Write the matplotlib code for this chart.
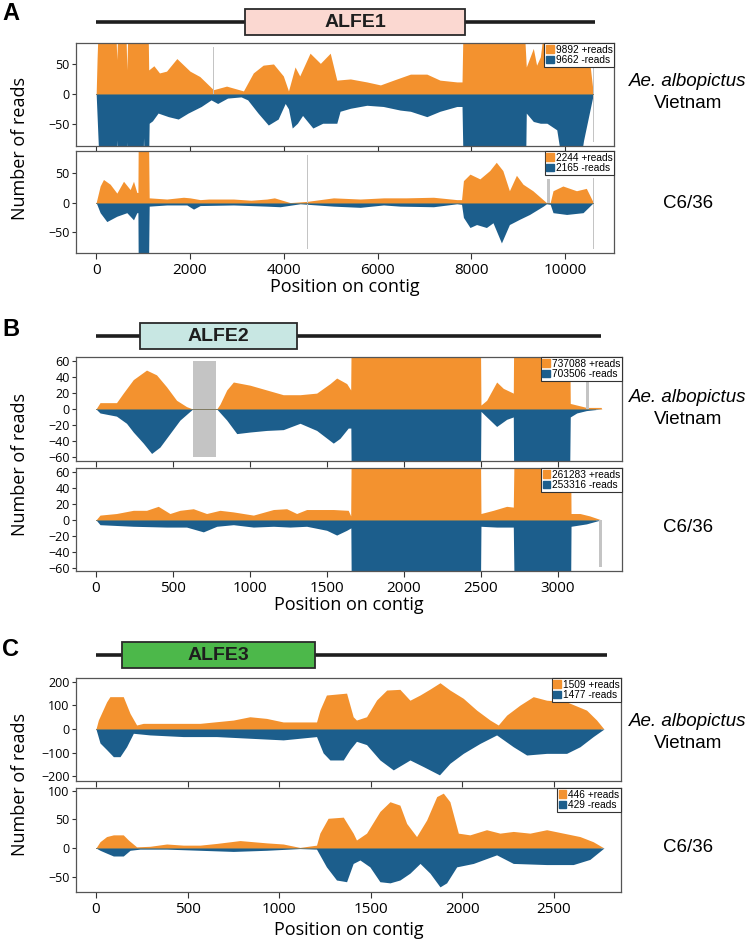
#!/usr/bin/python3

"""
Strand-specific read coverage on three ALFE contigs
(Ae. albopictus Vietnam vs C6/36 cells).
"""

import matplotlib

matplotlib.use("Agg")

import matplotlib.patches as mpatches
import matplotlib.pyplot as plt

ORANGE = "#f3922f"
BLUE = "#1c5e8c"
GRAY = "#c4c4c4"

# ---------------------------------------------------------------- ALFE1 ----
A_VN_PLUS_POS = [0, 20, 60, 400, 440, 480, 620, 654, 690, 1100, 1120, 1230,
                 1350, 1500, 1720, 2000, 2210, 2500, 2780, 3140, 3350, 3560,
                 3780, 3990, 4100, 4240, 4340, 4560, 4780, 4990, 5130, 5420,
                 5770, 6060, 6340, 6700, 7050, 7330, 7690, 7800, 7830, 9100,
                 9170, 9320, 9390, 9470, 9610, 10380, 10600]
A_VN_PLUS = [0, 60, 150, 150, 57, 150, 150, 40, 150, 150, 40, 47,
             35, 38, 59, 38, 29, 7, 13, 5, 35, 48,
             50, 30, 5, 45, 30, 68, 51, 68, 23, 25,
             20, 15, 23, 33, 33, 23, 20, 20, 150, 150,
             45, 76, 48, 62, 150, 150, 0]
A_VN_MINUS_POS = [0, 80, 410, 440, 470, 640, 660, 690, 990, 1010, 1040, 1110,
                  1130, 1200, 1320, 1540, 1750, 1960, 2240, 2450, 2590, 2800,
                  3090, 3230, 3450, 3670, 3880, 4030, 4100, 4180, 4290, 4400,
                  4620, 4830, 4990, 5130, 5200, 5420, 5770, 6120, 6480, 6700,
                  7050, 7330, 7690, 7800, 7830, 9150, 9170, 9320, 9470, 9610,
                  9820, 10000, 10250, 10390, 10600]
A_VN_MINUS = [0, 150, 150, 77, 150, 150, 80, 150, 150, 73, 150, 150,
              49, 45, 32, 38, 42, 32, 21, 10, 16, 7,
              5, 10, 32, 52, 42, 16, 25, 57, 49, 36,
              57, 49, 49, 49, 29, 24, 19, 21, 27, 29,
              38, 29, 21, 21, 150, 150, 32, 46, 49, 49,
              60, 150, 150, 78, 0]

A_C6_PLUS_POS = [0, 85, 156, 298, 441, 583, 725, 796, 867, 890, 900, 1110,
                 1130, 1506, 1862, 2000, 2217, 2400, 2928, 3300, 3639, 3800,
                 4136, 4491, 5060, 5629, 6130, 6610, 7190, 7690, 7790, 7830,
                 7970, 8180, 8390, 8530, 8670, 8810, 8960, 9100, 9310, 9600,
                 9680, 9740, 9950, 10240, 10450, 10600]
A_C6_PLUS = [0, 28, 39, 31, 16, 36, 22, 36, 17, 17, 150, 150,
             8, 6, 9, 8, 5, 6, 6, 4, 6, 8,
             0, 2, 8, 6, 8, 8, 9, 5, 5, 37,
             48, 40, 54, 68, 54, 20, 46, 31, 20, 0,
             0, 20, 28, 20, 24, 0]
A_C6_MINUS_POS = [0, 85, 227, 441, 654, 796, 867, 890, 900, 1110, 1130, 1506,
                  1933, 2075, 2217, 2928, 3639, 3923, 4349, 5060, 5629, 6126,
                  6480, 7190, 7690, 7790, 7830, 7970, 8110, 8320, 8460, 8640,
                  8810, 9030, 9240, 9530, 9600, 9680, 9740, 10030, 10380, 10600]
A_C6_MINUS = [0, 17, 32, 23, 17, 29, 17, 17, 150, 150, 6, 4,
              4, 11, 5, 4, 6, 7, 2, 6, 8, 4,
              6, 7, 2, 3, 25, 42, 37, 42, 34, 68,
              37, 28, 20, 6, 2, 3, 17, 20, 17, 0]

# ---------------------------------------------------------------- ALFE2 ----
B_VN_PLUS_POS = [0, 26, 133, 177, 242, 328, 393, 458, 523, 588, 628, 784,
                 805, 849, 892, 1000, 1108, 1216, 1325, 1433, 1520, 1563,
                 1628, 1654, 1660, 2494, 2500, 2537, 2602, 2645, 2710, 2715,
                 3074, 3080, 3143, 3185, 3280, 3285]
B_VN_PLUS = [0, 8, 8, 20, 37, 49, 43, 28, 11, 3, 0, 0,
             6, 24, 34, 30, 24, 18, 18, 20, 32, 39,
             32, 24, 150, 150, 5, 11, 34, 26, 20, 150,
             150, 7, 4, 2, 2, 0]
B_VN_MINUS_POS = [0, 26, 133, 198, 242, 307, 361, 415, 480, 545, 610, 628,
                  784, 849, 914, 1000, 1108, 1216, 1325, 1433, 1541, 1584,
                  1638, 1655, 1660, 2494, 2500, 2537, 2602, 2667, 2710, 2715,
                  3072, 3080, 3122, 3185, 3280]
B_VN_MINUS = [0, 5, 9, 18, 29, 43, 56, 48, 31, 14, 3, 0,
              0, 14, 31, 29, 27, 26, 18, 27, 43, 37,
              24, 24, 150, 150, 3, 10, 22, 13, 10, 150,
              150, 10, 5, 2, 0]

B_C6_PLUS_POS = [0, 26, 133, 242, 328, 404, 480, 545, 632, 718, 805, 892,
                 1022, 1152, 1238, 1303, 1368, 1541, 1638, 1654, 1660, 2494,
                 2500, 2580, 2667, 2710, 2720, 3080, 3085, 3143, 3206, 3282]
B_C6_PLUS = [0, 6, 8, 12, 12, 17, 8, 12, 14, 8, 12, 10,
             6, 13, 14, 8, 13, 13, 12, 5, 150, 150,
             8, 12, 17, 16, 150, 150, 8, 8, 5, 0]
B_C6_MINUS_POS = [0, 26, 242, 458, 588, 697, 784, 892, 1022, 1152, 1260, 1368,
                  1498, 1563, 1628, 1655, 1660, 2494, 2500, 2602, 2710, 2720,
                  3080, 3085, 3185, 3260, 3282]
B_C6_MINUS = [0, 6, 8, 9, 9, 15, 8, 6, 9, 8, 9, 8,
              13, 19, 13, 10, 150, 150, 8, 9, 9, 150,
              150, 8, 5, 1, 0]

# ---------------------------------------------------------------- ALFE3 ----
C_VN_PLUS_POS = [0, 13, 58, 76, 149, 186, 222, 258, 386, 568, 750, 840,
                 931, 1022, 1113, 1204, 1222, 1258, 1368, 1404, 1422, 1477,
                 1532, 1587, 1659, 1714, 1769, 1823, 1878, 1932, 2005, 2078,
                 2151, 2196, 2242, 2314, 2387, 2460, 2569, 2678, 2733, 2773]
C_VN_PLUS = [0, 38, 115, 137, 137, 66, 17, 24, 24, 24, 38, 52,
             45, 30, 30, 30, 80, 144, 152, 52, 38, 52,
             123, 165, 168, 122, 144, 169, 196, 165, 130, 80,
             38, 17, 59, 101, 137, 122, 115, 80, 38, 0]
C_VN_MINUS_POS = [0, 22, 58, 95, 131, 167, 204, 295, 477, 659, 840, 1022,
                  1204, 1240, 1277, 1350, 1386, 1422, 1477, 1550, 1623, 1714,
                  1787, 1875, 1932, 2005, 2096, 2187, 2278, 2351, 2460, 2569,
                  2642, 2714, 2773]
C_VN_MINUS = [0, 59, 87, 117, 117, 75, 18, 25, 32, 32, 39, 46,
              32, 101, 131, 131, 87, 52, 66, 131, 173, 131,
              159, 194, 145, 103, 61, 25, 75, 110, 103, 103,
              75, 32, 0]

C_C6_PLUS_POS = [0, 22, 58, 95, 149, 177, 222, 295, 386, 477, 568, 659,
                 786, 931, 1022, 1113, 1204, 1222, 1267, 1350, 1404, 1422,
                 1477, 1550, 1605, 1659, 1696, 1750, 1805, 1860, 1896, 1932,
                 1978, 2041, 2132, 2205, 2278, 2369, 2460, 2551, 2642, 2714,
                 2773]
C_C6_PLUS = [0, 11, 20, 23, 23, 14, 2, 3, 7, 5, 5, 8,
             13, 9, 7, 1, 5, 26, 52, 54, 26, 14,
             26, 64, 81, 75, 43, 20, 49, 90, 96, 81,
             26, 23, 32, 26, 29, 26, 32, 26, 20, 11,
             0]
C_C6_MINUS_POS = [0, 22, 58, 95, 149, 186, 240, 386, 568, 750, 931, 1113,
                  1204, 1258, 1313, 1368, 1404, 1441, 1495, 1550, 1605, 1659,
                  1714, 1769, 1823, 1878, 1914, 1969, 2060, 2187, 2278, 2460,
                  2605, 2696, 2773]
C_C6_MINUS = [0, 4, 9, 14, 14, 4, 2, 2, 4, 6, 4, 1,
              2, 33, 56, 59, 27, 21, 33, 59, 61, 56,
              44, 27, 44, 68, 61, 33, 27, 12, 27, 29,
              29, 20, 0]

# total read counts shown in the legends: (+reads, -reads)
A_VN_COUNTS = (9892, 9662)
A_C6_COUNTS = (2244, 2165)
B_VN_COUNTS = (737088, 703506)
B_C6_COUNTS = (261283, 253316)
C_VN_COUNTS = (1509, 1477)
C_C6_COUNTS = (446, 429)

# gap markers: (start, end, low, high)
A_VN_GAPS = [(2490, 2515, 0, 78), (10585, 10610, -80, 78)]
A_C6_GAPS = [(4490, 4515, -78, 80), (9605, 9665, 0, 40), (10585, 10610, -78, 42)]
B_VN_GAPS = [(628, 779, -60, 60), (3185, 3202, 0, 34), (3277, 3281, -60, 0)]
B_C6_GAPS = [(0, 3, -60, 0), (3265, 3286, -59, 0)]

# gene models: contig length, ORF start, ORF end, name, colour
GENES = {
    "A": (10640, 3177, 7868, "ALFE1", "#fbd8d1"),
    "B": (3279, 286, 1305, "ALFE2", "#c8e7e3"),
    "C": (2789, 142, 1195, "ALFE3", "#4cb84a"),
}

W, H = 750, 942


def rect(x0, y0, x1, y1):
    """Pixel box (top-left origin) to figure fraction rect."""
    return [x0 / W, 1 - y1 / H, (x1 - x0) / W, (y1 - y0) / H]


def draw_track(ax, plus_pos, plus, minus_pos, minus, gaps, counts,
               end, xlim, ylim, yticks, xticks, show_xlabels):
    ax.fill_between(plus_pos, 0, plus, color=ORANGE, lw=0)
    ax.fill_between(minus_pos, 0, [-v for v in minus], color=BLUE, lw=0)
    ax.plot([0, end], [0, 0], color="#7f7a60", lw=0.7)
    for x0, x1, lo, hi in gaps:
        ax.bar(x0, hi - lo, width=x1 - x0, bottom=lo, align="edge",
               color=GRAY, lw=0)
    ax.set_xlim(xlim)
    ax.set_ylim(ylim)
    ax.set_yticks(yticks)
    ax.set_xticks(xticks)
    if not show_xlabels:
        ax.set_xticklabels([])
    for s in ax.spines.values():
        s.set_color("#555555")
        s.set_linewidth(0.9)
    ax.tick_params(axis="y", labelsize=9, length=3, width=0.8,
                   color="#333333", pad=1.5)
    ax.tick_params(axis="x", labelsize=11, length=4, width=0.8,
                   color="#333333", pad=3)
    for lab in ax.get_xticklabels() + ax.get_yticklabels():
        lab.set_family("Open Sans")
    handles = [mpatches.Patch(color=ORANGE), mpatches.Patch(color=BLUE)]
    labels = [f"{counts[0]} +reads", f"{counts[1]} -reads"]
    lgd = ax.legend(handles, labels, loc="upper right", borderaxespad=0,
                    prop={"family": "Liberation Sans", "size": 7.3},
                    fancybox=False, framealpha=1, edgecolor="#333333",
                    handlelength=0.75, handleheight=0.75, handletextpad=0.2,
                    borderpad=0.15, labelspacing=0.05)
    lgd.get_frame().set_linewidth(0.8)


def draw_gene(fig, box, key, xlim):
    length, start, stop, name, color = GENES[key]
    ax = fig.add_axes(rect(*box))
    ax.set_xlim(xlim)
    ax.set_ylim(0, 1)
    ax.axis("off")
    ax.plot([0, length], [0.5, 0.5], color="#1e1e1e", lw=2.6,
            solid_capstyle="butt", zorder=1)
    ax.add_patch(mpatches.Rectangle((start, 0.02), stop - start, 0.96,
                                    facecolor=color, edgecolor="#2a2a2a",
                                    lw=1.3, zorder=2))
    ax.text((start + stop) / 2, 0.47, name, ha="center", va="center",
            family="Liberation Sans", weight="bold", size=14,
            color="#1e1e1e", zorder=3)


def side_labels(fig, y_top, y_bottom):
    fig.text(688 / W, 1 - y_top / H, "Ae. albopictus", ha="center",
             va="center", style="italic", family="Liberation Sans", size=13.5)
    fig.text(688 / W, 1 - (y_top + 21) / H, "Vietnam", ha="center",
             va="center", family="Liberation Sans", size=13.5)
    fig.text(688 / W, 1 - y_bottom / H, "C6/36", ha="center", va="center",
             family="Liberation Sans", size=13.5)


def panel(fig, letter, letter_y, gene_y, top_box, bottom_box, xlim,
          tracks, xticks, xlabel_y, side_y):
    fig.text(2 / W, 1 - letter_y / H, letter, ha="left", va="top",
             family="Liberation Sans", weight="bold", size=17)
    # the gene model shares the pixel x-extent of the coverage axes
    draw_gene(fig, (top_box[0], gene_y[0], top_box[2], gene_y[1]),
              letter, xlim)
    end = GENES[letter][0] - 40
    for box, tr, show in ((top_box, tracks[0], False),
                          (bottom_box, tracks[1], True)):
        ax = fig.add_axes(rect(*box))
        draw_track(ax, *tr[:6], end, xlim, tr[6], tr[7], xticks, show)
    mid_y = (top_box[1] + bottom_box[3]) / 2
    fig.text(20 / W, 1 - mid_y / H, "Number of reads", rotation=90,
             ha="center", va="center", family="Open Sans", size=13)
    fig.text((top_box[0] + top_box[2]) / 2 / W, 1 - xlabel_y / H,
             "Position on contig", ha="center", va="center",
             family="Open Sans", size=13)
    side_labels(fig, *side_y)


fig = plt.figure(figsize=(7.5, 9.42), dpi=100)

panel(fig, "A", 2, (8, 36), (76, 43, 614, 146), (76, 151, 614, 253),
      (-430, 11040),
      [(A_VN_PLUS_POS, A_VN_PLUS, A_VN_MINUS_POS, A_VN_MINUS, A_VN_GAPS,
        A_VN_COUNTS, (-87, 85), [-50, 0, 50]),
       (A_C6_PLUS_POS, A_C6_PLUS, A_C6_MINUS_POS, A_C6_MINUS, A_C6_GAPS,
        A_C6_COUNTS, (-85, 87), [-50, 0, 50])],
      range(0, 10001, 2000), 287, (82, 203))

panel(fig, "B", 318, (322, 350), (76, 357, 622, 461),
      (76, 468, 622, 571), (-130, 3416),
      [(B_VN_PLUS_POS, B_VN_PLUS, B_VN_MINUS_POS, B_VN_MINUS, B_VN_GAPS,
        B_VN_COUNTS, (-65.5, 65.5), range(-60, 61, 20)),
       (B_C6_PLUS_POS, B_C6_PLUS, B_C6_MINUS_POS, B_C6_MINUS, B_C6_GAPS,
        B_C6_COUNTS, (-64, 65), range(-60, 61, 20))],
      range(0, 3001, 500), 605, (398, 527))

panel(fig, "C", 638, (641, 669), (76, 678, 621, 781),
      (76, 788, 621, 892), (-109, 2866),
      [(C_VN_PLUS_POS, C_VN_PLUS, C_VN_MINUS_POS, C_VN_MINUS, [],
        C_VN_COUNTS, (-220, 216), range(-200, 201, 100)),
       (C_C6_PLUS_POS, C_C6_PLUS, C_C6_MINUS_POS, C_C6_MINUS, [],
        C_C6_COUNTS, (-77, 105), [-50, 0, 50, 100])],
      range(0, 2501, 500), 930, (722, 848))

fig.savefig("out.png", dpi=100)
